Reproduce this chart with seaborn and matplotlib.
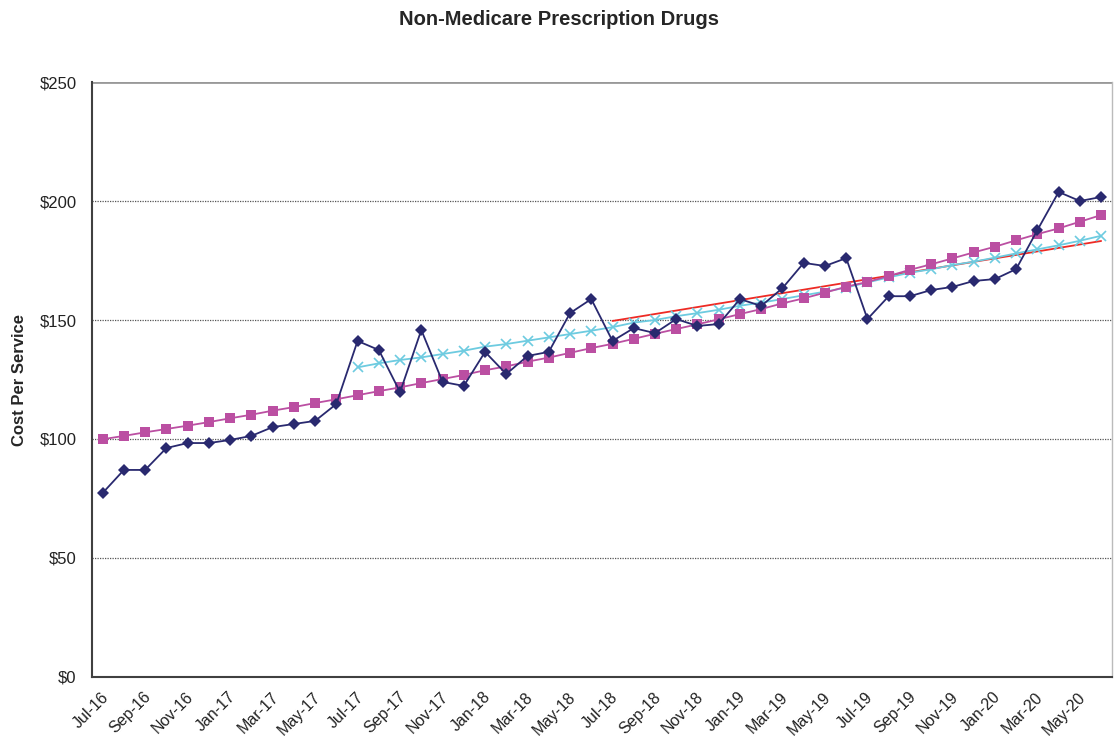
import matplotlib
matplotlib.use("Agg")
import matplotlib.pyplot as plt
import matplotlib.transforms as mtransforms
import seaborn as sns
import pandas as pd
import numpy as np

# monthly categories Jul-16 .. Jun-20
months = pd.date_range("2016-07-01", "2020-06-01", freq="MS").strftime("%b-%y").tolist()

# actual cost per service
actual = [77.3, 87.0, 87.0, 96.2, 98.3, 98.3, 99.6, 101.3, 105.0, 106.3, 107.6, 114.7,
          141.2, 137.4, 119.7, 145.8, 124.0, 122.3, 136.6, 127.3, 134.9, 136.6, 152.9, 158.8,
          141.2, 146.6, 144.5, 150.4, 147.5, 148.3, 158.8, 155.9, 163.4, 174.0, 172.7, 176.0,
          150.4, 160.0, 160.0, 162.6, 163.9, 166.4, 167.2, 171.4, 187.8, 203.8, 200.0, 201.7]

# long-term trend (magenta squares)
trend_long = [99.9, 101.3, 102.8, 104.2, 105.6, 107.1, 108.7, 110.2, 111.9, 113.4, 115.1, 116.7,
              118.4, 120.1, 121.7, 123.5, 125.2, 126.9, 128.9, 130.5, 132.5, 134.2, 136.2, 138.2,
              140.0, 142.1, 144.2, 146.2, 148.2, 150.3, 152.5, 154.6, 157.0, 159.1, 161.5, 164.0,
              166.0, 168.5, 171.1, 173.4, 175.9, 178.4, 180.8, 183.5, 186.1, 188.5, 191.3, 194.1]

# 3-year trend (cyan x), starts Jul-17
trend_mid = [130.1, 131.8, 133.2, 134.3, 135.7, 137.1, 138.8, 139.9, 141.3, 142.7, 144.1, 145.5,
             147.0, 148.9, 150.0, 151.6, 152.9, 154.3, 156.0, 157.3, 158.8, 160.4, 161.9, 163.6,
             165.8, 167.9, 169.9, 171.3, 173.1, 174.5, 176.2, 178.0, 179.7, 181.4, 183.3, 185.4]

# 2-year linear trend (red), Jul-18 .. Jun-20
trend_short_months = ["Jul-18", "Jun-20"]
trend_short = [149.6, 183.2]

tick_labels = months[::2]

idx = {m: i for i, m in enumerate(months)}
df_act = pd.DataFrame({"x": range(len(months)), "y": actual})
df_long = pd.DataFrame({"x": range(len(months)), "y": trend_long})
df_mid = pd.DataFrame({"x": range(len(months) - len(trend_mid), len(months)), "y": trend_mid})
df_short = pd.DataFrame({"x": [idx[m] for m in trend_short_months], "y": trend_short})

sns.set_style("white")
plt.rcParams["font.family"] = ["Liberation Sans", "DejaVu Sans"]

fig = plt.figure(figsize=(11.14, 7.41), dpi=100)
ax = fig.add_axes([0.0826, 0.0864, 0.9154, 0.8029])

for yv in [50, 100, 150, 200]:
    ax.axhline(yv, color="#555555", lw=0.9, ls=(0, (1, 1)), zorder=0)
ax.axhline(250, color="#999999", lw=2, zorder=0)

cyan = "#6DCBE0"
sns.lineplot(data=df_short, x="x", y="y", ax=ax, color="#EE2A24", linewidth=1.3, zorder=2)
sns.lineplot(data=df_mid, x="x", y="y", ax=ax, color=cyan, linewidth=1.3, marker="x",
             markersize=6.5, markeredgewidth=1.2, markeredgecolor=cyan, zorder=3)
sns.lineplot(data=df_long, x="x", y="y", ax=ax, color="#BB4FA2", linewidth=1.3, marker="s",
             markersize=7, markeredgewidth=0, zorder=4)
sns.lineplot(data=df_act, x="x", y="y", ax=ax, color="#29296F", linewidth=1.3, marker="D",
             markersize=6.3, markeredgewidth=0, zorder=5)

ax.set_xlim(-0.5, len(months) - 0.5)
ax.set_ylim(0, 250)
ax.set_yticks([0, 50, 100, 150, 200, 250])
ax.set_yticklabels([f"${v}" for v in [0, 50, 100, 150, 200, 250]], fontsize=12, color="#222222")
ax.set_xticks(np.arange(-0.5, len(months) - 0.5, 2))
ax.set_xticklabels(tick_labels, rotation=45, ha="right", va="center",
                   rotation_mode="anchor", fontsize=11.5, color="#222222")

ax.tick_params(axis="both", direction="out", length=4, width=1, color="#333333")
ax.tick_params(axis="y", pad=7)
ax.tick_params(axis="x", pad=8)
ax.set_xlabel("")
ax.set_ylabel("Cost Per Service", fontsize=12, fontweight="bold", labelpad=9)

# shift the slanted month labels so their ends sit just right of the tick
offset = mtransforms.ScaledTranslation(14 / 100, -1 / 100, fig.dpi_scale_trans)
for lbl in ax.get_xticklabels():
    lbl.set_transform(lbl.get_transform() + offset)

ax.spines["left"].set_color("#404040")
ax.spines["left"].set_linewidth(1.5)
ax.spines["bottom"].set_color("#404040")
ax.spines["bottom"].set_linewidth(1.5)
ax.spines["top"].set_visible(False)
ax.spines["right"].set_color("#BBBBBB")
ax.spines["right"].set_linewidth(1)

fig.suptitle("Non-Medicare Prescription Drugs", fontsize=14.5, fontweight="bold", y=0.987,
             x=0.502)

fig.savefig("out.png", dpi=100)
